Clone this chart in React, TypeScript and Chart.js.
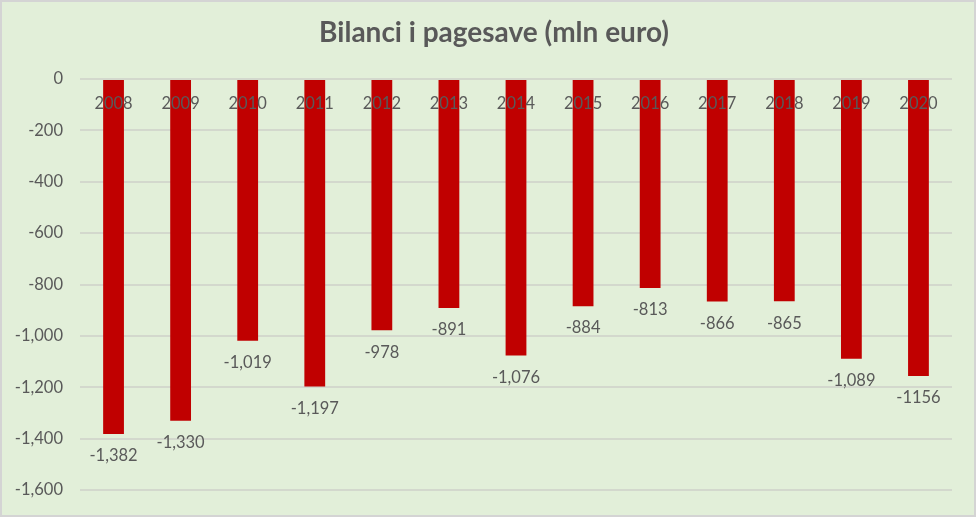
import React, { useEffect, useRef } from "react";
import { Chart, registerables } from "chart.js";

Chart.register(...registerables);

const years = ["2008", "2009", "2010", "2011", "2012", "2013", "2014", "2015", "2016", "2017", "2018", "2019", "2020"];
const balance = [-1382, -1330, -1019, -1197, -978, -891, -1076, -884, -813, -866, -865, -1089, -1156];
const valueLabels = ["-1,382", "-1,330", "-1,019", "-1,197", "-978", "-891", "-1,076", "-884", "-813", "-866", "-865", "-1,089", "-1156"];
const titleText = "Bilanci i pagesave (mln euro)";

const FONT = "Lato, 'Open Sans', sans-serif";
const TEXT = "#595959";

export default function App() {
  const ref = useRef<HTMLCanvasElement | null>(null);

  useEffect(() => {
    if (!ref.current) return;
    const bgPlugin = {
      id: "bg",
      beforeDraw(chart: any) {
        const { ctx, width, height } = chart;
        ctx.save();
        ctx.fillStyle = "#E2EFD9";
        ctx.fillRect(0, 0, width, height);
        ctx.strokeStyle = "#D4D4D4";
        ctx.lineWidth = 2;
        ctx.strokeRect(1, 1, width - 2, height - 2);
        ctx.restore();
      },
      afterDraw(chart: any) {
        const { ctx } = chart;
        ctx.save();
        ctx.fillStyle = TEXT;
        ctx.font = `bold 28px ${FONT}`;
        ctx.textAlign = "center";
        ctx.textBaseline = "middle";
        ctx.fillText(titleText, 494, 33);
        ctx.restore();
      },
      afterDatasetsDraw(chart: any) {
        const { ctx } = chart;
        const xs = chart.scales.x;
        const ys = chart.scales.y;
        const zero = ys.getPixelForValue(0);
        ctx.save();
        ctx.fillStyle = TEXT;
        ctx.font = `16.5px ${FONT}`;
        ctx.textAlign = "center";
        ctx.textBaseline = "middle";
        years.forEach((yr, i) => {
          const x = xs.getPixelForValue(i);
          ctx.fillText(yr, x, zero + 25);
          const yEnd = ys.getPixelForValue(balance[i]);
          ctx.fillText(valueLabels[i], x, yEnd + 22);
        });
        ctx.restore();
      },
    };

    const chart = new Chart(ref.current, {
      type: "bar",
      data: {
        labels: years,
        datasets: [
          {
            data: balance,
            backgroundColor: "#C00000",
            borderWidth: 0,
            categoryPercentage: 1,
            barPercentage: 0.31,
          },
        ],
      },
      options: {
        animation: false,
        responsive: false,
        maintainAspectRatio: false,
        layout: { padding: { top: 79, bottom: 21, right: 24, left: 0 } },
        plugins: { legend: { display: false }, title: { display: false }, tooltip: { enabled: false } },
        scales: {
          x: { display: false },
          y: {
            min: -1600,
            max: 0,
            afterFit: (s: any) => {
              s.width = 80;
            },
            border: { display: false },
            grid: { color: "#D3D8CD", lineWidth: 2, drawTicks: false },
            ticks: {
              stepSize: 200,
              padding: 17,
              color: TEXT,
              font: { family: FONT, size: 16.5 },
              callback: (v: any) => Number(v).toLocaleString("en-US"),
            },
          },
        },
      },
      plugins: [bgPlugin],
    });
    return () => chart.destroy();
  }, []);

  return (
    <div style={{ position: "fixed", left: 0, top: 0, width: 976, height: 517 }}>
      <canvas ref={ref} width={976} height={517} style={{ width: 976, height: 517, display: "block" }} />
    </div>
  );
}
